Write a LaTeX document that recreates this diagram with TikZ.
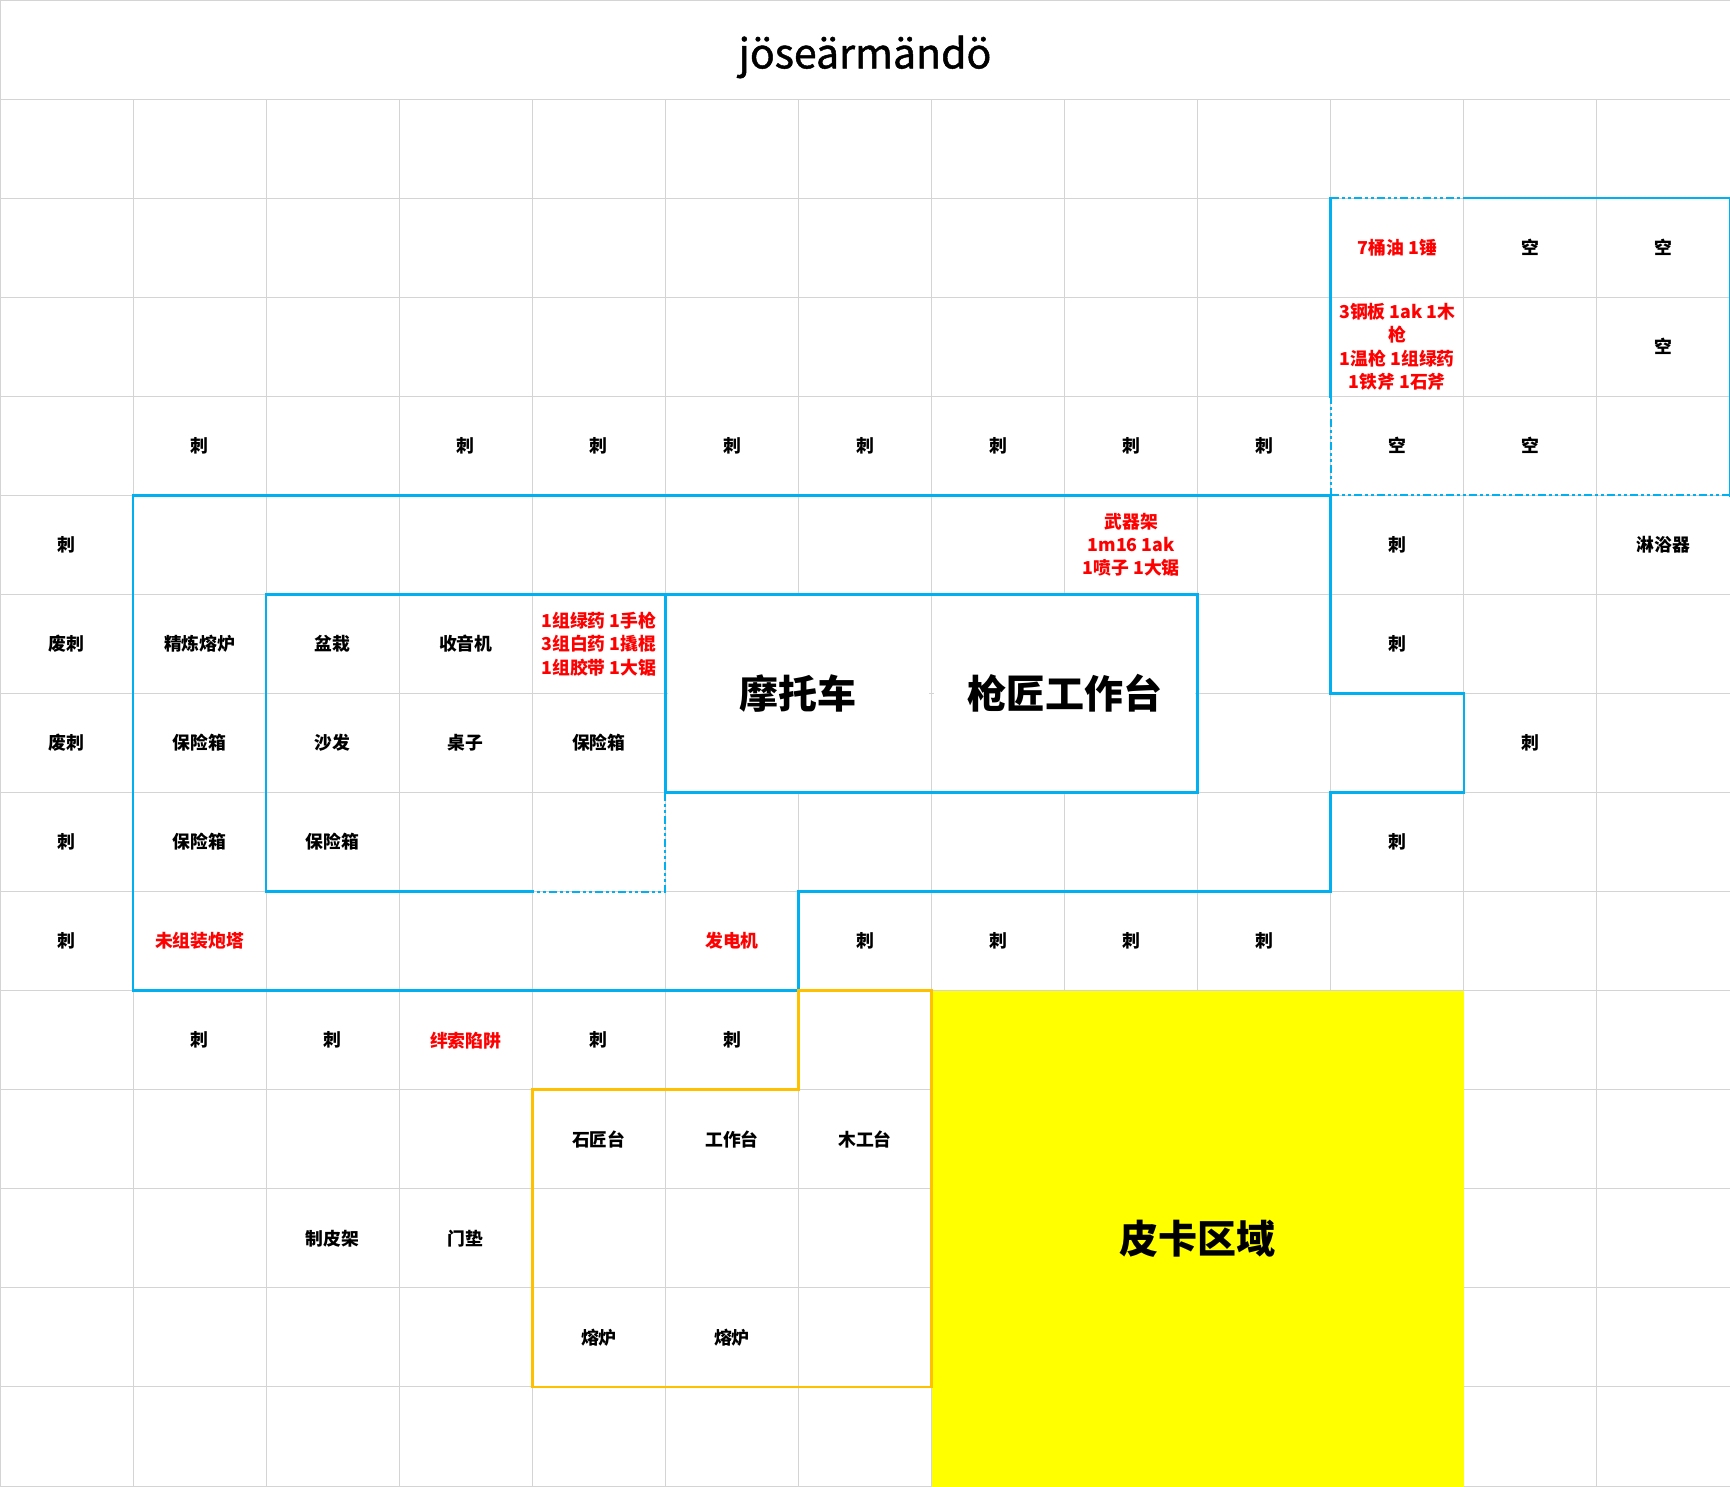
\documentclass[tikz,border=0pt]{standalone}
\usepackage{fontspec}
\newfontfamily\cjk{Noto Sans CJK SC}
\newfontfamily\titlefont[FakeBold=1.2]{Noto Sans CJK SC}
\definecolor{xblue}{HTML}{00B0F0}
\definecolor{xorange}{HTML}{FFC000}
\definecolor{xgray}{HTML}{D4D4D4}
\definecolor{xyellow}{HTML}{FFFF00}
\definecolor{xred}{HTML}{FF0000}
\tikzset{
  gridline/.style={draw=xgray, line width=1pt},
  lbl/.style={font=\cjk\bfseries\fontsize{17.8}{23.2}\selectfont, align=center, inner sep=0pt},
  redlbl/.style={lbl, text=xred},
  biglbl/.style={font=\cjk\bfseries\fontsize{39}{45}\selectfont, align=center, inner sep=0pt},
  solidblue/.style={draw=xblue, line width=2.6pt, line join=miter, line cap=rect},
  dashblue/.style={draw=xblue, line width=2pt, dash pattern=on 8pt off 3pt on 3pt off 3pt on 3pt off 3pt},
  orangebox/.style={draw=xorange, line width=2.6pt, line join=miter, line cap=rect}
}
\newcommand{\cellnode}[5][lbl]{\node[#1] (#2) at ({#3+0.5},{#4+0.5}) {#5};}
\begin{document}
\begin{tikzpicture}[x=133.08pt, y=-99.07pt]
\useasboundingbox (0,0) rectangle (13,15);
% grid
\foreach \i in {1,...,12} \draw[gridline] (\i,1) -- (\i,15);
\foreach \j in {1,...,14} \draw[gridline] (0,\j) -- (13,\j);
\draw[gridline] (0,0) rectangle (13,15);
% merged cells
\fill[white] (5.02,6.02) rectangle (6.98,7.98);
\fill[white] (7.02,6.02) rectangle (8.98,7.98);
% yellow area
\fill[xyellow] (7,10) rectangle (11,15.05);
% title
\node[font=\titlefont\fontsize{41}{50}\selectfont, anchor=base, inner sep=0pt] (title) at (6.5,0.69) {jöseärmändö};
% row 2
\cellnode[redlbl]{r2a}{10}{2}{7桶油 1锤}
\cellnode{r2b}{11}{2}{空}
\cellnode{r2c}{12}{2}{空}
% row 3
\cellnode[redlbl]{r3a}{10}{3}{3钢板 1ak 1木\\枪\\1温枪 1组绿药\\1铁斧 1石斧}
\cellnode{r3c}{12}{3}{空}
% row 4
\cellnode{r4a}{1}{4}{刺}
\cellnode{r4b}{3}{4}{刺}
\cellnode{r4c}{4}{4}{刺}
\cellnode{r4d}{5}{4}{刺}
\cellnode{r4e}{6}{4}{刺}
\cellnode{r4f}{7}{4}{刺}
\cellnode{r4g}{8}{4}{刺}
\cellnode{r4h}{9}{4}{刺}
\cellnode{r4i}{10}{4}{空}
\cellnode{r4j}{11}{4}{空}
% row 5
\cellnode{r5a}{0}{5}{刺}
\cellnode[redlbl]{r5b}{8}{5}{武器架\\1m16 1ak\\1喷子 1大锯}
\cellnode{r5c}{10}{5}{刺}
\cellnode{r5d}{12}{5}{淋浴器}
% row 6
\cellnode{r6a}{0}{6}{废刺}
\cellnode{r6b}{1}{6}{精炼熔炉}
\cellnode{r6c}{2}{6}{盆栽}
\cellnode{r6d}{3}{6}{收音机}
\cellnode[redlbl]{r6e}{4}{6}{1组绿药 1手枪\\3组白药 1撬棍\\1组胶带 1大锯}
\cellnode{r6f}{10}{6}{刺}
\node[biglbl] (moto) at (6,7) {摩托车};
\node[biglbl] (gunsmith) at (8,7) {枪匠工作台};
% row 7
\cellnode{r7a}{0}{7}{废刺}
\cellnode{r7b}{1}{7}{保险箱}
\cellnode{r7c}{2}{7}{沙发}
\cellnode{r7d}{3}{7}{桌子}
\cellnode{r7e}{4}{7}{保险箱}
\cellnode{r7f}{11}{7}{刺}
% row 8
\cellnode{r8a}{0}{8}{刺}
\cellnode{r8b}{1}{8}{保险箱}
\cellnode{r8c}{2}{8}{保险箱}
\cellnode{r8d}{10}{8}{刺}
% row 9
\cellnode{r9a}{0}{9}{刺}
\cellnode[redlbl]{r9b}{1}{9}{未组装炮塔}
\cellnode[redlbl]{r9c}{5}{9}{发电机}
\cellnode{r9d}{6}{9}{刺}
\cellnode{r9e}{7}{9}{刺}
\cellnode{r9f}{8}{9}{刺}
\cellnode{r9g}{9}{9}{刺}
% row 10
\cellnode{r10a}{1}{10}{刺}
\cellnode{r10b}{2}{10}{刺}
\cellnode[redlbl]{r10c}{3}{10}{绊索陷阱}
\cellnode{r10d}{4}{10}{刺}
\cellnode{r10e}{5}{10}{刺}
% row 11
\cellnode{r11a}{4}{11}{石匠台}
\cellnode{r11b}{5}{11}{工作台}
\cellnode{r11c}{6}{11}{木工台}
% row 12
\cellnode{r12a}{2}{12}{制皮架}
\cellnode{r12b}{3}{12}{门垫}
\node[biglbl] (pickup) at (9,12.5) {皮卡区域};
% row 13
\cellnode{r13a}{4}{13}{熔炉}
\cellnode{r13b}{5}{13}{熔炉}
% blue outlines
\draw[solidblue] (1,5) -- (10,5) -- (10,7) -- (11,7) -- (11,8) -- (10,8) -- (10,9) -- (6,9) -- (6,10) -- (1,10) -- cycle;
\draw[solidblue] (10,4) -- (10,2);
\draw[solidblue] (11,2) -- (13,2) -- (13,5);
\draw[dashblue] (10,2) -- (11,2);
\draw[dashblue] (10,4) -- (10,5);
\draw[dashblue] (10,5) -- (13,5);
\draw[solidblue] (4,9) -- (2,9) -- (2,6) -- (9,6) -- (9,8) -- (5,8);
\draw[solidblue] (5,6) -- (5,8);
\draw[dashblue] (5,8) -- (5,9) -- (4,9);
% orange outline
\draw[orangebox] (6,10) -- (7,10) -- (7,14) -- (4,14) -- (4,11) -- (6,11) -- cycle;
\end{tikzpicture}
\end{document}
